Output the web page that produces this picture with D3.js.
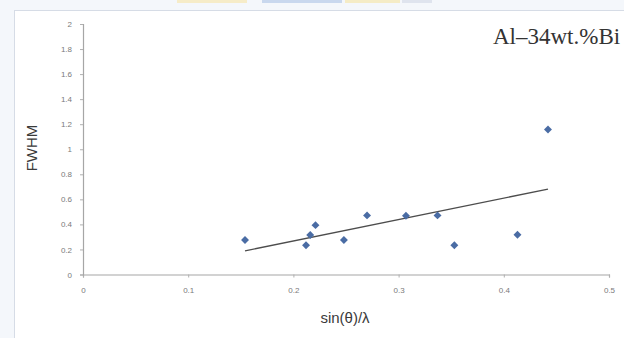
<!DOCTYPE html>
<html>
<head>
<meta charset="utf-8">
<script src="https://cdn.jsdelivr.net/npm/d3@7"></script>
<style>
  body { margin: 0; background: #f4f7fb; overflow: hidden; }
  svg { display: block; }
</style>
</head>
<body>
<svg></svg>
<script>
// data
var sinTheta = [0.154, 0.212, 0.216, 0.221, 0.248, 0.270, 0.307, 0.337, 0.353, 0.413, 0.442];
var fwhm     = [0.275, 0.233, 0.315, 0.394, 0.275, 0.472, 0.469, 0.472, 0.233, 0.317, 1.157];
var xTicks = [0, 0.1, 0.2, 0.3, 0.4, 0.5];
var xTickLabels = ["0", "0.1", "0.2", "0.3", "0.4", "0.5"];
var yTicks = [0, 0.2, 0.4, 0.6, 0.8, 1, 1.2, 1.4, 1.6, 1.8, 2];
var yTickLabels = ["0", "0.2", "0.4", "0.6", "0.8", "1", "1.2", "1.4", "1.6", "1.8", "2"];
var sampleLabel = "Al\u201334wt.%Bi";

var W = 624, H = 338;
var svg = d3.select("svg").attr("width", W).attr("height", H);

// chart frame (cropped on the right and bottom)
svg.append("rect")
    .attr("x", 14.5).attr("y", 10.5)
    .attr("width", W).attr("height", H)
    .attr("fill", "#fff")
    .attr("stroke", "#d6dce6");

// bits of something above the chart, cut off
var topBits = [[177, 70, "#f6ecc8"], [262, 80, "#c9d8ee"], [345, 55, "#f5ecc6"], [402, 30, "#dfe4ee"]];
svg.selectAll(".bit").data(topBits).enter().append("rect")
    .attr("x", function (d) { return d[0]; }).attr("y", 0)
    .attr("width", function (d) { return d[1]; }).attr("height", 3)
    .attr("fill", function (d) { return d[2]; });

var x = d3.scaleLinear().domain([0, 0.5]).range([83, 609]);
var y = d3.scaleLinear().domain([0, 2]).range([274.5, 24]);

var g = svg.append("g");

// x axis
var xAxis = d3.axisBottom(x)
    .tickValues(xTicks)
    .tickFormat(function (d, i) { return xTickLabels[i]; })
    .tickSizeOuter(0)
    .tickSize(3)
    .tickPadding(10);
var gx = g.append("g").attr("transform", "translate(0," + y(0) + ")").call(xAxis);

// y axis
var yAxis = d3.axisLeft(y)
    .tickValues(yTicks)
    .tickFormat(function (d, i) { return yTickLabels[i]; })
    .tickSizeOuter(0)
    .tickSize(3)
    .tickPadding(8);
var gy = g.append("g").attr("transform", "translate(" + x(0) + ",0)").call(yAxis);

[gx, gy].forEach(function (a) {
    a.select(".domain").attr("stroke", "#a6a6a6").attr("stroke-width", 1.2);
    a.selectAll(".tick line").attr("stroke", "#b0b0b0");
    a.selectAll(".tick text")
        .attr("fill", "#7a7a7a")
        .style("font-family", "Liberation Sans, Arial, sans-serif")
        .style("font-size", "8px");
});

// trend line (least squares through the points)
var mx = d3.mean(sinTheta), my = d3.mean(fwhm);
var sxy = d3.sum(sinTheta, function (v, i) { return (v - mx) * (fwhm[i] - my); });
var sxx = d3.sum(sinTheta, function (v) { return (v - mx) * (v - mx); });
var slope = sxy / sxx, icpt = my - slope * mx;
var ends = d3.extent(sinTheta);
g.append("path")
    .datum(ends)
    .attr("fill", "none")
    .attr("stroke", "#4d4d4d")
    .attr("stroke-width", 1.3)
    .attr("d", d3.line()
        .x(function (d) { return x(d); })
        .y(function (d) { return y(slope * d + icpt); }));

// points
var pts = sinTheta.map(function (v, i) { return [v, fwhm[i]]; });
g.selectAll(".pt").data(pts).enter().append("path")
    .attr("class", "pt")
    .attr("transform", function (d) { return "translate(" + x(d[0]) + "," + y(d[1]) + ")"; })
    .attr("d", d3.symbol().type(d3.symbolDiamond2).size(40))
    .attr("fill", "#4a6ca4");

// axis titles
svg.append("text")
    .attr("transform", "translate(37,148) rotate(-90)")
    .attr("text-anchor", "middle")
    .attr("fill", "#3a3a3a")
    .style("font-family", "Liberation Sans, Arial, sans-serif")
    .style("font-size", "15px")
    .text("FWHM");

svg.append("text")
    .attr("x", 345).attr("y", 323)
    .attr("text-anchor", "middle")
    .attr("fill", "#3a3a3a")
    .style("font-family", "Liberation Sans, Arial, sans-serif")
    .style("font-size", "15px")
    .text("sin(\u03b8)/\u03bb");

// sample label
svg.append("text")
    .attr("x", 493).attr("y", 44)
    .attr("fill", "#333")
    .style("font-family", "Liberation Serif, Times New Roman, serif")
    .style("font-size", "23px")
    .text(sampleLabel);
</script>
</body>
</html>
